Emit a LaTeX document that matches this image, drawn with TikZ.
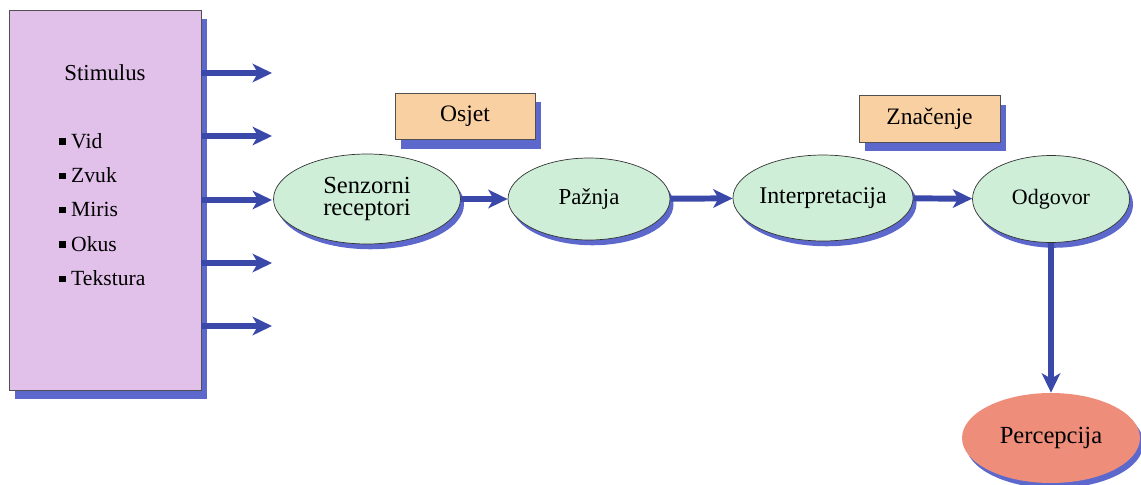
\documentclass[tikz,border=0pt]{standalone}
\usepackage{fontspec}
\setmainfont{Liberation Serif}
\definecolor{stimpurple}{RGB}{225,192,233}
\definecolor{labelpeach}{RGB}{249,208,162}
\definecolor{stepgreen}{RGB}{206,238,216}
\definecolor{resultsalmon}{RGB}{238,142,122}
\definecolor{arrowblue}{RGB}{58,72,170}
\definecolor{shadowblue}{RGB}{92,104,204}
\definecolor{edgegray}{RGB}{80,80,80}
\usetikzlibrary{calc}
\usetikzlibrary{positioning}
\usetikzlibrary{arrows.meta,shapes.geometric,shadows}

\tikzset{
  bigarrow/.style={draw=arrowblue, line width=3.4pt,
    -{Stealth[length=11pt, width=10.5pt, inset=3pt]}},
  boxshadow/.style={general shadow={fill=shadowblue, shadow xshift=3.5pt, shadow yshift=-5pt}},
  ellshadow/.style={general shadow={fill=shadowblue, shadow xshift=2pt, shadow yshift=-3pt}},
  labelbox/.style={draw=edgegray, fill=labelpeach, boxshadow, inner sep=0pt,
    minimum height=0.93cm, font=\fontsize{13.4}{15}\selectfont},
  stepell/.style={ellipse, draw=black!80, fill=stepgreen, ellshadow, inner sep=0pt,
    align=center, font=\fontsize{13.6}{15}\selectfont},
}

\begin{document}
\begin{tikzpicture}[x=0.02cm, y=-0.02cm]
  \useasboundingbox (0,0) rectangle (1141,484);

  % stimulus block with its list
  \node [draw=edgegray, fill=stimpurple, boxshadow, minimum width=3.84cm,
    minimum height=7.6cm] (stim) at (105,200) {};
  \node [font=\fontsize{13}{15}\selectfont] (stimtitle) at (105,73) {Stimulus};
  \foreach \t [count=\i] in {Vid,Zvuk,Miris,Okus,Tekstura} {
    \node [anchor=west, inner sep=0pt, text height=1.6ex, text depth=0.3ex,
      font=\fontsize{12.3}{14}\selectfont] (item\i) at (59, {108.8+34.3*\i})
      {\rule[0.35ex]{0.3em}{0.3em}\kern0.25em\t};
  }

  % steps
  \node [stepell, minimum width=3.74cm, minimum height=1.8cm,
    font=\fontsize{14}{13}\selectfont] (senz) at (367,199) {Senzorni\\receptori};
  \node [stepell, minimum width=3.24cm, minimum height=1.64cm,
    font=\fontsize{13}{15}\selectfont] (paz) at (589,199) {Pažnja};
  \node [stepell, minimum width=3.5cm, minimum height=1.72cm] (interp) at (823,198) {Interpretacija};
  \node [stepell, minimum width=3.14cm, minimum height=1.74cm,
    font=\fontsize{12.5}{15}\selectfont] (odg) at (1051,199) {Odgovor};
  \node [stepell, fill=resultsalmon, draw=none, minimum width=3.56cm, minimum height=1.8cm,
    font=\fontsize{14}{15}\selectfont] (perc) at (1051,438) {Percepcija};

  \node [labelbox, minimum width=2.8cm] (osjet) at (465,116.5) {Osjet};
  \node [labelbox, minimum width=2.82cm] (znac) at (929.5,119) {Značenje};

  % arrows out of the stimulus block
  \foreach \y [count=\i] in {73,136,200,263,326} {
    \coordinate (tip\i) at (272,\y);
    \draw [bigarrow] (stim.east |- tip\i) -- (tip\i);
  }

  \draw [bigarrow] (senz) -- (paz);
  \draw [bigarrow] (paz) -- (interp);
  \draw [bigarrow] (interp) -- (odg);
  \draw [bigarrow] (odg) -- (perc);

\end{tikzpicture}
\end{document}
